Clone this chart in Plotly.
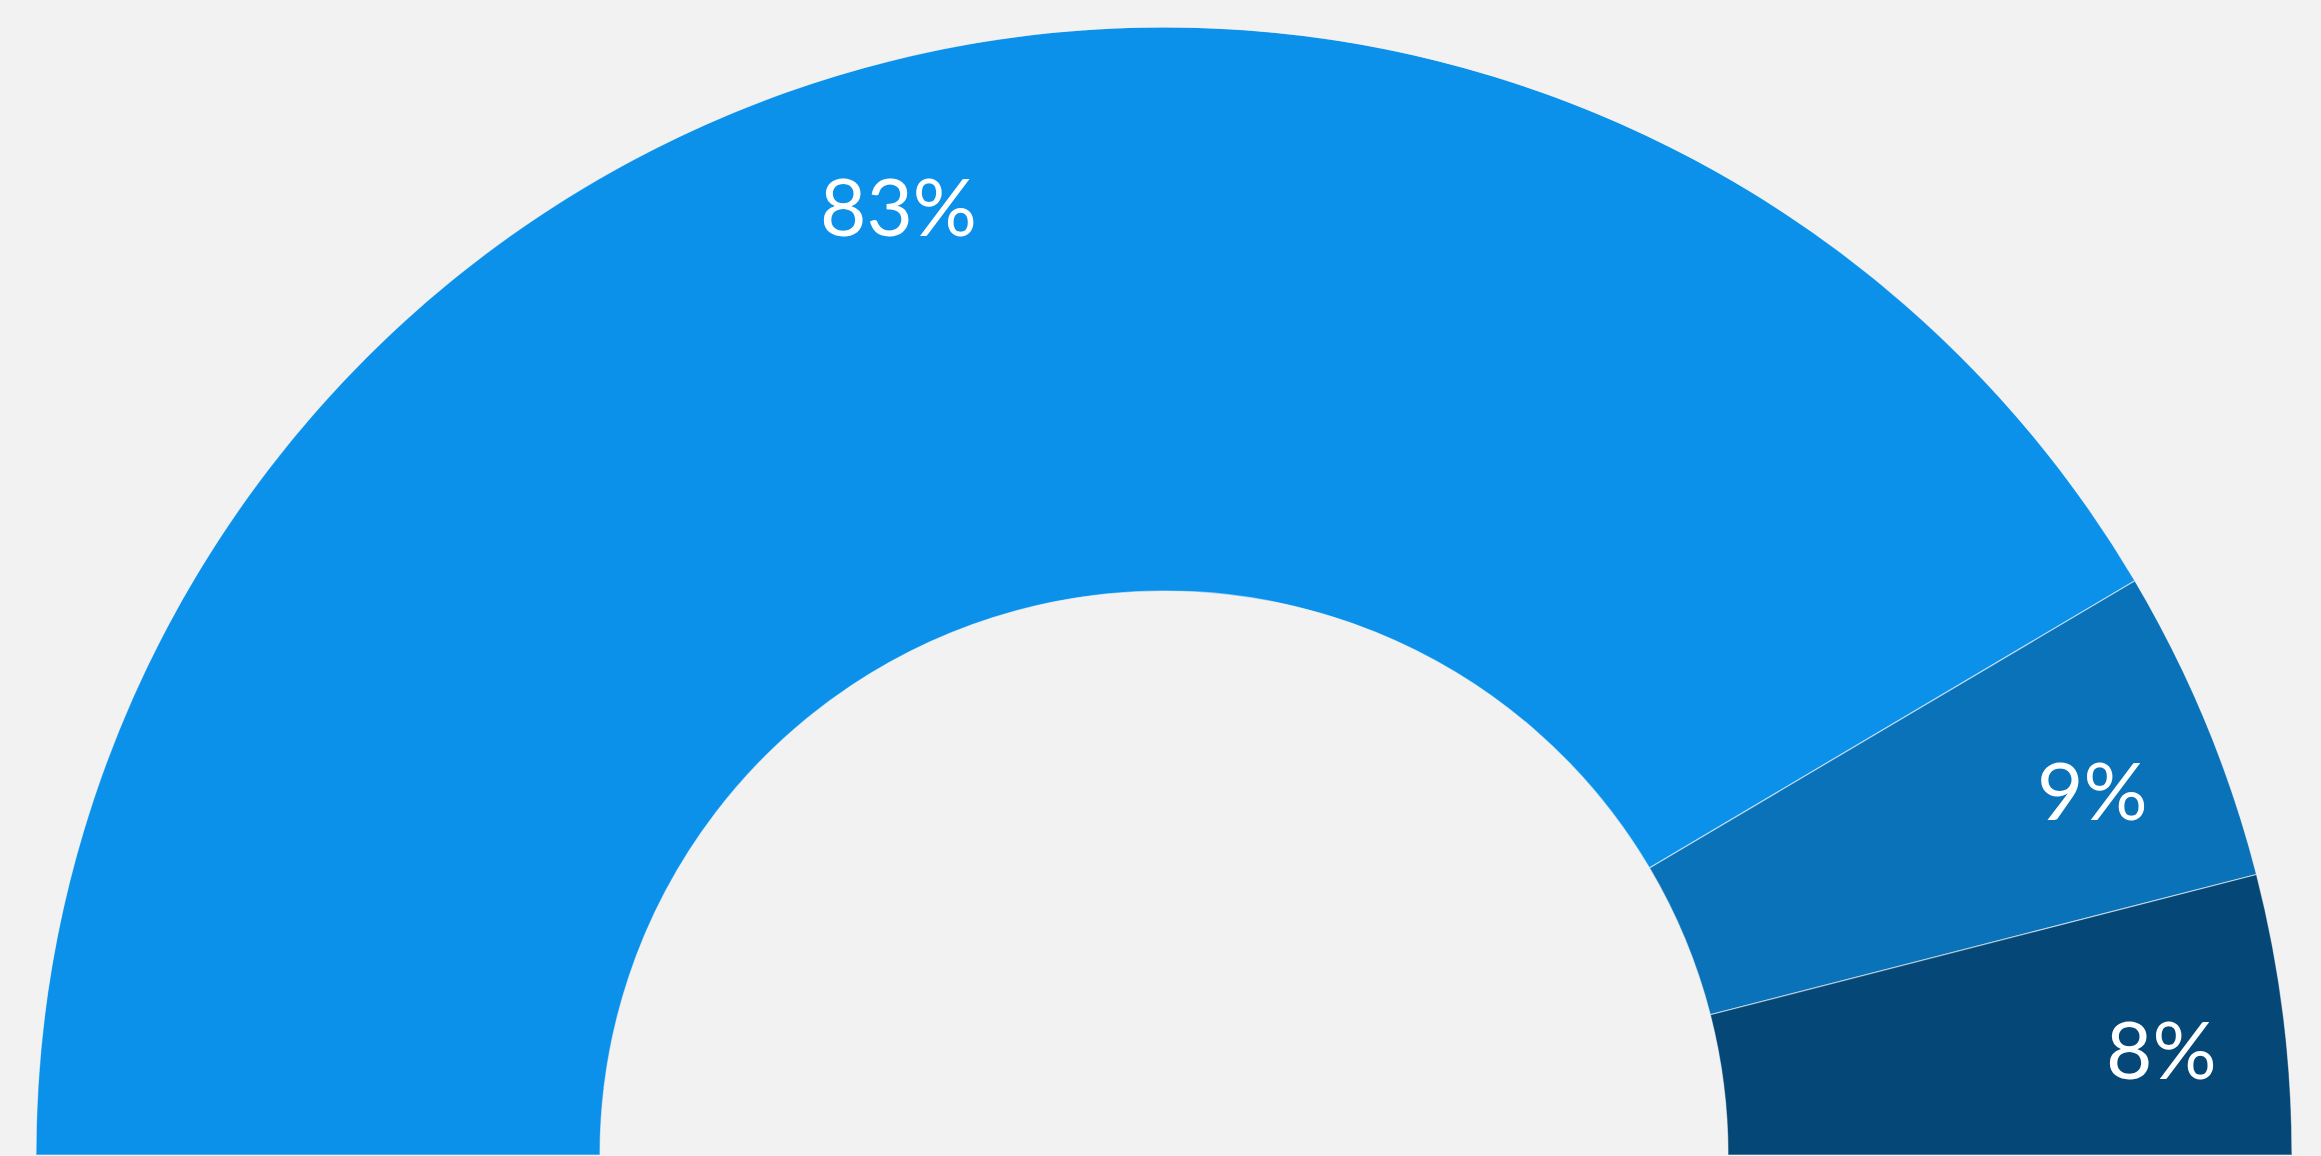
import math
import plotly.graph_objects as go

categories = ["A", "B", "C"]
values = [83, 9, 8]
labels = ["83%", "9%", "8%"]
colors = ["#0c91ea", "#0a72b8", "#054877"]

total = sum(values)
span = 180.0
widths = [v / total * span for v in values]
mids = []
acc = 0.0
for w in widths:
    mids.append(acc + w / 2)
    acc += w

LABEL_R = 0.891   # label radius as fraction of outer radius
LABEL_SHIFT = -19  # px

fig = go.Figure()
fig.add_trace(go.Barpolar(
    r=[1] * len(values),
    theta=mids,
    width=widths,
    marker=dict(color=colors, line=dict(color="rgba(255,255,255,0.55)", width=1.2)),
    hoverinfo="skip",
    showlegend=False,
))

# label positions derived from the same angular scale (clockwise from the left)
for lab, m in zip(labels, mids):
    ang = math.radians(180.0 - m)
    fig.add_annotation(
        x=LABEL_R * math.cos(ang),
        y=LABEL_R * math.sin(ang),
        xref="x", yref="y",
        text=lab,
        showarrow=False,
        xanchor="center", yanchor="middle",
        yshift=LABEL_SHIFT,
        font=dict(family="Lato", size=80, color="white"),
    )

fig.update_layout(
    width=2321,
    height=1156,
    margin=dict(l=36, r=29, t=27, b=1),
    paper_bgcolor="#f2f2f2",
    plot_bgcolor="rgba(0,0,0,0)",
    xaxis=dict(range=[-1, 1], domain=[0, 1], visible=False, fixedrange=True),
    yaxis=dict(range=[0, 1], domain=[0, 1], visible=False, fixedrange=True),
    polar=dict(
        domain=dict(x=[0, 1], y=[0, 1]),
        sector=[0, 180],
        hole=0.5,
        bgcolor="rgba(0,0,0,0)",
        radialaxis=dict(range=[0, 1], visible=False, showgrid=False),
        angularaxis=dict(
            direction="clockwise",
            rotation=180,
            showgrid=False,
            showline=False,
            showticklabels=False,
            ticks="",
            visible=False,
        ),
    ),
)

fig.write_html(
    "out.html",
    config={"displayModeBar": False},
    post_script="document.body.style.margin='0';document.body.style.background='#f2f2f2';document.body.style.overflow='hidden';",
)
